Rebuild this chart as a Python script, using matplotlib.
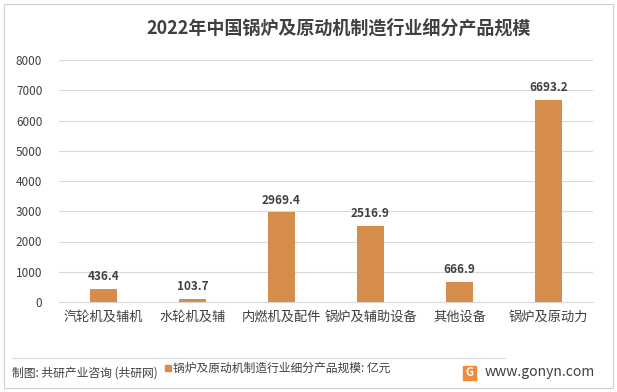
import matplotlib
matplotlib.use("Agg")
import matplotlib.pyplot as plt
from matplotlib.patches import Rectangle

plt.rcParams['font.family'] = ['Noto Sans CJK SC', 'DejaVu Sans']

categories = ["汽轮机及辅机", "水轮机及辅", "内燃机及配件", "锅炉及辅助设备", "其他设备", "锅炉及原动力"]
values = [436.4, 103.7, 2969.4, 2516.9, 666.9, 6693.2]
yticks = [0, 1000, 2000, 3000, 4000, 5000, 6000, 7000, 8000]
title = "2022年中国锅炉及原动机制造行业细分产品规模"
legend_label = "锅炉及原动机制造行业细分产品规模: 亿元"
source = "制图: 共研产业咨询 (共研网)"
site = "www.gonyn.com"

W, H = 617, 392
fig = plt.figure(figsize=(W/100, H/100), dpi=100)
bar_color = "#D68D4C"

ax = fig.add_axes([59/W, 1-302/H, (593-59)/W, (302-60)/H])
x = list(range(len(categories)))
bars = ax.bar(x, values, width=0.31, color=bar_color, zorder=3)
for xi, v in zip(x, values):
    ax.text(xi, v + 180, f"{v:.1f}", ha="center", va="bottom", fontsize=8.5,
            fontweight="bold", color="#404040")
ax.set_xlim(-0.5, len(categories) - 0.5)
ax.set_ylim(0, 8000)
ax.set_yticks(yticks)
ax.set_yticklabels([str(t) for t in yticks], fontsize=8.5, color="#404040")
ax.set_xticks(x)
ax.set_xticklabels(categories, fontsize=9.5, color="#404040")
ax.tick_params(axis="both", length=0, pad=6)
ax.tick_params(axis="y", pad=12)
ax.grid(axis="y", color="#D9D9D9", linewidth=0.8, zorder=0)
for s in ["top", "right", "left"]:
    ax.spines[s].set_visible(False)
ax.spines["bottom"].set_color("#D9D9D9")

fig.text(0.5 + 30/W, 1 - 28/H, title, ha="center", va="center", fontsize=13,
         fontweight="bold", color="#404040")

# frame
fig.patches.append(Rectangle((4/W, 4/H), (W-8)/W, (H-8)/H, transform=fig.transFigure,
                             fill=False, edgecolor="#D0D0D0", linewidth=0.8))
fig.add_artist(plt.Line2D([12/W, 505/W], [1-358/H, 1-358/H], color="#D9D9D9",
                          linewidth=0.8, transform=fig.transFigure))

fig.text(12/W, 1-373/H, source, ha="left", va="center", fontsize=8.5, color="#404040")
fig.patches.append(Rectangle((165/W, 1-371/H), 6/W, 6/H, transform=fig.transFigure,
                             color=bar_color))
fig.text(173/W, 1-368/H, legend_label, ha="left", va="center", fontsize=8.5, color="#404040")
fig.patches.append(Rectangle((463/W, 1-380/H), 13/W, 14/H, transform=fig.transFigure,
                             color="#F08A3C"))
fig.text(469.5/W, 1-373/H, "G", ha="center", va="center", fontsize=8, color="white",
         fontweight="bold")
fig.text(485/W, 1-372/H, site, ha="left", va="center", fontsize=10, color="#404040")

fig.savefig("out.png", dpi=100)
